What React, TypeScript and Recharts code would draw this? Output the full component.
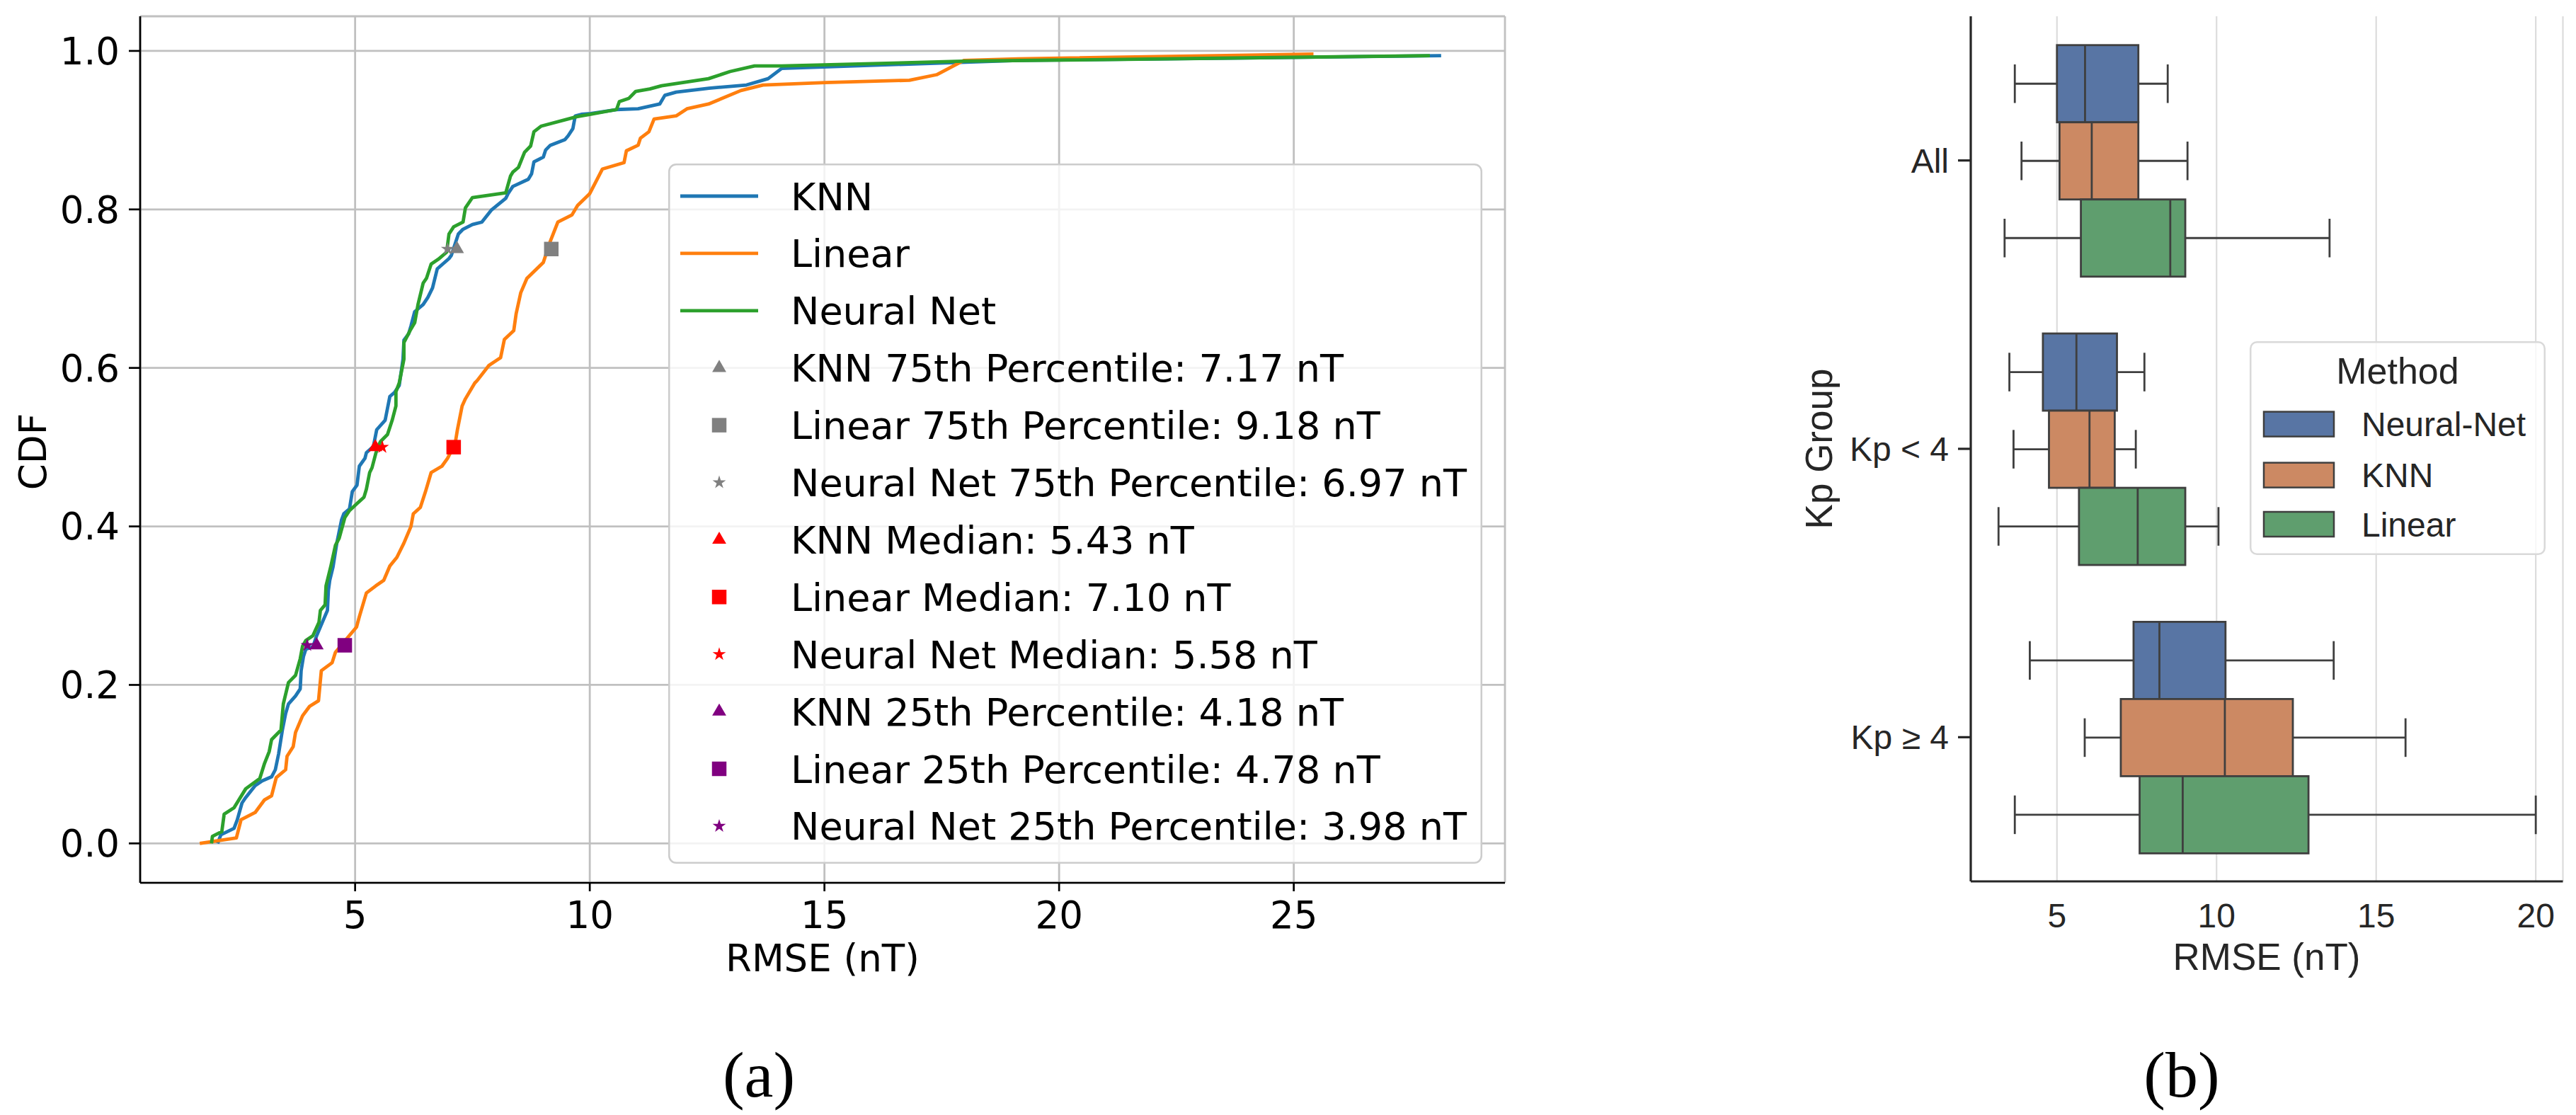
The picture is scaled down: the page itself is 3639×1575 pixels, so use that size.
import React from 'react';
import {
  ComposedChart,
  Line,
  Scatter,
  XAxis,
  YAxis,
  CartesianGrid,
  Legend,
  BarChart,
  Bar,
  Symbols,
} from 'recharts';

// ---------------- Panel (a): empirical CDFs ----------------
const knnCdf: number[][] = [
  [2.07, 0.0], [2.14, 0.011], [2.42, 0.019], [2.49, 0.03], [2.59, 0.051], [2.67, 0.058], [2.87, 0.073],
  [3.02, 0.079], [3.22, 0.084], [3.3, 0.093], [3.37, 0.113], [3.45, 0.143], [3.52, 0.164], [3.58, 0.176],
  [3.73, 0.186], [3.83, 0.195], [3.85, 0.218], [3.9, 0.236], [3.95, 0.245], [4.1, 0.248], [4.18, 0.262],
  [4.33, 0.283], [4.41, 0.294], [4.43, 0.319], [4.46, 0.332], [4.53, 0.349], [4.61, 0.379], [4.71, 0.408],
  [4.76, 0.416], [4.88, 0.422], [4.94, 0.444], [5.04, 0.452], [5.09, 0.476], [5.21, 0.486], [5.24, 0.493],
  [5.39, 0.501], [5.46, 0.522], [5.64, 0.534], [5.66, 0.54], [5.74, 0.564], [5.84, 0.569], [5.94, 0.578],
  [6.02, 0.611], [6.04, 0.635], [6.14, 0.643], [6.19, 0.653], [6.27, 0.671], [6.45, 0.68], [6.55, 0.689],
  [6.65, 0.701], [6.75, 0.725], [7.0, 0.738], [7.05, 0.742], [7.2, 0.769], [7.3, 0.775], [7.5, 0.781],
  [7.7, 0.784], [7.9, 0.799], [8.21, 0.814], [8.26, 0.82], [8.36, 0.829], [8.69, 0.838], [8.76, 0.845],
  [8.81, 0.86], [9.01, 0.866], [9.06, 0.875], [9.16, 0.881], [9.47, 0.888], [9.54, 0.893], [9.64, 0.902],
  [9.69, 0.918], [9.82, 0.92], [10.02, 0.921], [10.57, 0.926], [11.03, 0.927], [11.49, 0.933], [11.6, 0.944],
  [11.84, 0.948], [12.54, 0.953], [13.34, 0.957], [13.8, 0.965], [14.09, 0.978], [19.12, 0.988], [28.14, 0.994],
];

const linearCdf: number[][] = [
  [1.69, 0.0], [2.47, 0.007], [2.57, 0.03], [2.87, 0.039], [3.07, 0.055], [3.22, 0.06], [3.32, 0.083],
  [3.52, 0.093], [3.55, 0.11], [3.68, 0.122], [3.73, 0.14], [3.88, 0.161], [4.03, 0.173], [4.22, 0.18],
  [4.28, 0.218], [4.51, 0.228], [4.58, 0.241], [4.83, 0.259], [5.03, 0.273], [5.09, 0.286], [5.24, 0.316],
  [5.44, 0.325], [5.61, 0.332], [5.74, 0.35], [5.89, 0.361], [6.04, 0.379], [6.19, 0.4], [6.24, 0.416],
  [6.39, 0.424], [6.5, 0.444], [6.62, 0.468], [6.85, 0.476], [6.97, 0.486], [7.13, 0.504], [7.18, 0.522],
  [7.28, 0.552], [7.35, 0.561], [7.55, 0.581], [7.6, 0.584], [7.85, 0.603], [8.1, 0.613], [8.18, 0.636],
  [8.38, 0.647], [8.43, 0.668], [8.53, 0.695], [8.66, 0.713], [9.01, 0.733], [9.16, 0.76], [9.32, 0.784],
  [9.62, 0.793], [9.74, 0.805], [10.0, 0.82], [10.27, 0.851], [10.73, 0.859], [10.78, 0.874], [11.03, 0.881],
  [11.08, 0.89], [11.26, 0.898], [11.37, 0.914], [11.84, 0.918], [12.07, 0.927], [12.53, 0.933], [13.22, 0.95],
  [13.69, 0.957], [15.02, 0.96], [16.81, 0.963], [17.39, 0.97], [17.97, 0.988], [19.12, 0.99], [25.42, 0.996],
];

const neuralCdf: number[][] = [
  [1.94, 0.0], [1.96, 0.009], [2.16, 0.015], [2.21, 0.037], [2.42, 0.045], [2.67, 0.069], [2.97, 0.082],
  [3.07, 0.101], [3.17, 0.116], [3.22, 0.131], [3.42, 0.143], [3.47, 0.176], [3.58, 0.203], [3.73, 0.212],
  [3.83, 0.233], [3.88, 0.249], [3.95, 0.256], [4.1, 0.262], [4.23, 0.279], [4.26, 0.294], [4.36, 0.301],
  [4.38, 0.325], [4.48, 0.349], [4.58, 0.376], [4.66, 0.385], [4.78, 0.411], [4.88, 0.42], [5.19, 0.437],
  [5.24, 0.447], [5.31, 0.468], [5.36, 0.474], [5.44, 0.492], [5.49, 0.501], [5.54, 0.507], [5.69, 0.516],
  [5.79, 0.534], [5.87, 0.552], [5.87, 0.57], [5.94, 0.581], [5.99, 0.596], [6.04, 0.611], [6.04, 0.632],
  [6.17, 0.647], [6.27, 0.657], [6.34, 0.68], [6.45, 0.707], [6.52, 0.713], [6.62, 0.731], [6.77, 0.737],
  [6.95, 0.746], [7.0, 0.769], [7.1, 0.778], [7.3, 0.784], [7.35, 0.802], [7.5, 0.815], [8.21, 0.821],
  [8.31, 0.842], [8.36, 0.847], [8.48, 0.853], [8.61, 0.872], [8.74, 0.88], [8.81, 0.898], [8.96, 0.905],
  [9.72, 0.917], [10.02, 0.92], [10.57, 0.926], [10.63, 0.936], [10.83, 0.94], [10.98, 0.949], [11.28, 0.952],
  [11.53, 0.956], [12.53, 0.965], [12.99, 0.974], [13.51, 0.981], [14.09, 0.981], [17.96, 0.987], [27.9, 0.994],
];

const cdfNames = ['KNN', 'Linear', 'Neural Net'];
const cdfColors = ['#1f77b4', '#ff7f0e', '#2ca02c'];
const cdfXTicks = [5, 10, 15, 20, 25];
const cdfYTicks = [0, 0.2, 0.4, 0.6, 0.8, 1.0];

const p75Values = [7.17, 9.18, 6.97];
const medianValues = [5.43, 7.1, 5.58];
const p25Values = [4.18, 4.78, 3.98];
const levelNames = ['75th Percentile', 'Median', '25th Percentile'];
const levelProbs = [0.75, 0.5, 0.25];
const levelColors = ['#808080', '#ff0000', '#800080'];
const markerShapes = ['triangle', 'square', 'star'];
const markerSizes = [170, 420, 110];

// ---------------- Panel (b): box plots ----------------
const kpGroups = ['All', 'Kp < 4', 'Kp ≥ 4'];
const boxMethods = ['Neural-Net', 'KNN', 'Linear'];
const boxColors = ['#5875a4', '#cc8963', '#5f9e6e'];
// [lower whisker, Q1, median, Q3, upper whisker]
const neuralBox = [
  [3.68, 5.0, 5.88, 7.55, 8.47],
  [3.51, 4.56, 5.61, 6.88, 7.74],
  [4.15, 7.4, 8.21, 10.28, 13.67],
];
const knnBox = [
  [3.89, 5.08, 6.09, 7.55, 9.09],
  [3.64, 4.75, 6.02, 6.81, 7.47],
  [5.87, 7.0, 10.26, 12.39, 15.92],
];
const linearBox = [
  [3.36, 5.75, 8.55, 9.02, 13.54],
  [3.17, 5.69, 7.53, 9.02, 10.06],
  [3.68, 7.59, 8.94, 12.88, 20.0],
];
const boxXTicks = [5, 10, 15, 20];

// ---------------- derived tables ----------------
const cdfPoints = [knnCdf, linearCdf, neuralCdf].map((arr) => arr.map(([x, y]) => ({ x, y })));
const levelValues = [p75Values, medianValues, p25Values];
const markerSeries = levelNames.flatMap((lvl, li) =>
  cdfNames.map((m, mi) => ({
    label: `${m} ${lvl}: ${levelValues[li][mi].toFixed(2)} nT`,
    color: levelColors[li],
    shape: markerShapes[mi],
    size: markerSizes[mi],
    data: [{ x: levelValues[li][mi], y: levelProbs[li] }],
  }))
);

const boxSets = [neuralBox, knnBox, linearBox];
const boxKeys = ['nn', 'knn', 'lin'];
const boxRows = kpGroups.map((g, gi) => {
  const row: any = { group: g };
  boxKeys.forEach((k, ki) => {
    const s = boxSets[ki][gi];
    row[k] = [s[0], s[4]];
    row[k + 'Stats'] = s;
  });
  return row;
});

const SANS_A = 'DejaVu Sans';
const SANS_B = 'Liberation Sans, Arial, sans-serif';

const CdfLegend = () => {
  const rowH = 80.9;
  const top = 46;
  const rows: any[] = [
    ...cdfNames.map((n, i) => ({ kind: 'line', label: n, color: cdfColors[i] })),
    ...markerSeries.map((m) => ({ kind: 'marker', label: m.label, color: m.color, shape: m.shape, size: m.size })),
  ];
  return (
    <svg width={1150} height={989} style={{ display: 'block' }}>
      <rect x={1.25} y={1.25} width={1147.5} height={986.5} rx={10} fill="#ffffff" fillOpacity={0.8} stroke="#cccccc" strokeWidth={2.5} />
      {rows.map((r, i) => {
        const cy = top + i * rowH;
        return (
          <g key={i}>
            {r.kind === 'line' ? (
              <line x1={17} x2={127} y1={cy} y2={cy} stroke={r.color} strokeWidth={4.8} />
            ) : (
              <Symbols cx={72} cy={cy} type={r.shape} size={r.size} fill={r.color} />
            )}
            <text x={173} y={cy + 19.5} fontSize={54} fontFamily={SANS_A} fill="#000">
              {r.label}
            </text>
          </g>
        );
      })}
    </svg>
  );
};

const BoxLegend = () => {
  const rowsY = [99.6, 171.6, 241];
  return (
    <svg width={418} height={302} style={{ display: 'block' }}>
      <rect x={1.25} y={1.25} width={415.5} height={299.5} rx={9} fill="#ffffff" fillOpacity={0.8} stroke="#d9d9d9" strokeWidth={2.5} />
      <text x={209} y={60} textAnchor="middle" fontSize={52} fontFamily={SANS_B} fill="#262626">
        Method
      </text>
      {boxMethods.map((m, i) => (
        <g key={m}>
          <rect x={20} y={rowsY[i]} width={99} height={35} fill={boxColors[i]} stroke="#3f3f3f" strokeWidth={2.5} />
          <text x={158} y={rowsY[i] + 17.5 + 17} fontSize={48} fontFamily={SANS_B} fill="#262626">
            {m}
          </text>
        </g>
      ))}
    </svg>
  );
};

const BoxShape = (props: any) => {
  const { x, y, width, height, payload, statsKey, color } = props;
  const s: number[] = payload[statsKey];
  const lo = s[0];
  const hi = s[4];
  const px = (v: number) => x + ((v - lo) / (hi - lo)) * width;
  const cy = y + height / 2;
  const cap = height * 0.25;
  const stroke = '#3f3f3f';
  const sw = 2.8;
  return (
    <g>
      <line x1={px(s[0])} x2={px(s[1])} y1={cy} y2={cy} stroke={stroke} strokeWidth={sw} />
      <line x1={px(s[3])} x2={px(s[4])} y1={cy} y2={cy} stroke={stroke} strokeWidth={sw} />
      <line x1={px(s[0])} x2={px(s[0])} y1={cy - cap} y2={cy + cap} stroke={stroke} strokeWidth={sw} />
      <line x1={px(s[4])} x2={px(s[4])} y1={cy - cap} y2={cy + cap} stroke={stroke} strokeWidth={sw} />
      <rect x={px(s[1])} y={y} width={px(s[3]) - px(s[1])} height={height} fill={color} stroke={stroke} strokeWidth={sw} />
      <line x1={px(s[2])} x2={px(s[2])} y1={y} y2={y + height} stroke={stroke} strokeWidth={sw} />
    </g>
  );
};

const CdfPanel = () => (
  <ComposedChart
    width={2200}
    height={1420}
    margin={{ top: 23, right: 74, bottom: 0, left: 0 }}
  >
    <CartesianGrid stroke="#c0c0c0" strokeWidth={2.8} />
    <XAxis
      dataKey="x"
      type="number"
      domain={[0.42, 29.5]}
      allowDataOverflow
      ticks={cdfXTicks}
      height={173}
      tickSize={12}
      tickMargin={14}
      stroke="#000"
      strokeWidth={2.7}
      tick={{ fontSize: 53, fontFamily: SANS_A, fill: '#000' }}
      label={() => (
        <text x={1162} y={1372} textAnchor="middle" fontSize={53} fontFamily={SANS_A} fill="#000">
          RMSE (nT)
        </text>
      )}
    />
    <XAxis
      xAxisId="top"
      orientation="top"
      dataKey="x"
      type="number"
      domain={[0.42, 29.5]}
      allowDataOverflow
      height={0}
      tick={false}
      tickLine={false}
      stroke="#000"
      strokeWidth={2.7}
    />
    <YAxis
      type="number"
      domain={[-0.0497, 1.0437]}
      allowDataOverflow
      ticks={cdfYTicks}
      width={198}
      tickSize={16}
      tickMargin={13}
      stroke="#000"
      strokeWidth={2.7}
      tickFormatter={(v: number) => v.toFixed(1)}
      tick={{ fontSize: 53, fontFamily: SANS_A, fill: '#000' }}
      label={() => (
        <text x={65} y={638} transform="rotate(-90 65 638)" textAnchor="middle" fontSize={53} fontFamily={SANS_A} fill="#000">
          CDF
        </text>
      )}
    />
    <YAxis
      yAxisId="right"
      orientation="right"
      type="number"
      domain={[-0.0497, 1.0437]}
      allowDataOverflow
      width={0}
      tick={false}
      tickLine={false}
      stroke="#000"
      strokeWidth={2.7}
    />
    {markerSeries.map((m) => (
      <Scatter
        key={m.label}
        name={m.label}
        data={m.data}
        dataKey="y"
        fill={m.color}
        isAnimationActive={false}
        shape={(p: any) => <Symbols cx={p.cx} cy={p.cy} type={m.shape as any} size={m.size} fill={m.color} />}
      />
    ))}
    {cdfNames.map((n, i) => (
      <Line
        key={n}
        name={n}
        data={cdfPoints[i]}
        dataKey="y"
        type="linear"
        stroke={cdfColors[i]}
        strokeWidth={4.8}
        strokeLinejoin="round"
        dot={false}
        activeDot={false}
        isAnimationActive={false}
      />
    ))}
    <Legend
      layout="vertical"
      align="center"
      verticalAlign="middle"
      wrapperStyle={{ left: 944, top: 231, width: 1150, height: 989, lineHeight: 0 }}
      content={() => <CdfLegend />}
    />
  </ComposedChart>
);

const BoxPanel = () => (
  <BarChart
    width={1159}
    height={1420}
    layout="vertical"
    data={boxRows}
    margin={{ top: 23, right: 18.5, bottom: 0, left: 0 }}
    barCategoryGap="10%"
    barGap={0}
  >
    <CartesianGrid horizontal={false} stroke="#dcdcdc" strokeWidth={2.2} />
    <XAxis
      type="number"
      domain={[2.3, 20.85]}
      allowDataOverflow
      ticks={boxXTicks}
      height={175}
      tickLine={false}
      tickSize={0}
      tickMargin={31}
      stroke="#262626"
      strokeWidth={3.2}
      tick={{ fontSize: 48, fontFamily: SANS_B, fill: '#262626' }}
      label={() => (
        <text x={722} y={1370} textAnchor="middle" fontSize={53} fontFamily={SANS_B} fill="#262626">
          RMSE (nT)
        </text>
      )}
    />
    <XAxis
      xAxisId="top"
      orientation="top"
      type="number"
      domain={[2.3, 20.85]}
      allowDataOverflow
      height={0}
      tick={false}
      tickLine={false}
      stroke="#262626"
      strokeWidth={3.2}
    />
    <YAxis
      type="category"
      dataKey="group"
      width={304}
      tickSize={18}
      tickMargin={13}
      stroke="#262626"
      strokeWidth={3.2}
      tick={{ fontSize: 48, fontFamily: SANS_B, fill: '#262626' }}
      label={() => (
        <text x={108} y={634} transform="rotate(-90 108 634)" textAnchor="middle" fontSize={53} fontFamily={SANS_B} fill="#262626">
          Kp Group
        </text>
      )}
    />
    <YAxis
      yAxisId="right"
      orientation="right"
      type="category"
      dataKey="group"
      width={0}
      tick={false}
      tickLine={false}
      stroke="#262626"
      strokeWidth={3.2}
    />
    {boxKeys.map((k, ki) => (
      <Bar
        key={k}
        name={boxMethods[ki]}
        dataKey={k}
        fill={boxColors[ki]}
        isAnimationActive={false}
        shape={(p: any) => <BoxShape {...p} statsKey={k + 'Stats'} color={boxColors[ki]} />}
      />
    ))}
    <Legend
      layout="vertical"
      align="center"
      verticalAlign="middle"
      wrapperStyle={{ left: 698, top: 482, width: 418, height: 302, lineHeight: 0 }}
      content={() => <BoxLegend />}
    />
  </BarChart>
);

export default function App() {
  return (
    <div style={{ position: 'absolute', left: 0, top: 0, width: 3639, height: 1575, background: '#ffffff', overflow: 'hidden' }}>
      <svg width={3639} height={1575} style={{ position: 'absolute', left: 0, top: 0 }}>
        <text x={1072} y={1549} textAnchor="middle" fontSize={92} fontFamily="Liberation Serif, Times New Roman, serif" fill="#000">
          (a)
        </text>
        <text x={3082} y={1549} textAnchor="middle" fontSize={92} fontFamily="Liberation Serif, Times New Roman, serif" fill="#000">
          (b)
        </text>
      </svg>
      <div style={{ position: 'absolute', left: 0, top: 0 }}>
        <CdfPanel />
      </div>
      <div style={{ position: 'absolute', left: 2480, top: 0 }}>
        <BoxPanel />
      </div>
    </div>
  );
}
